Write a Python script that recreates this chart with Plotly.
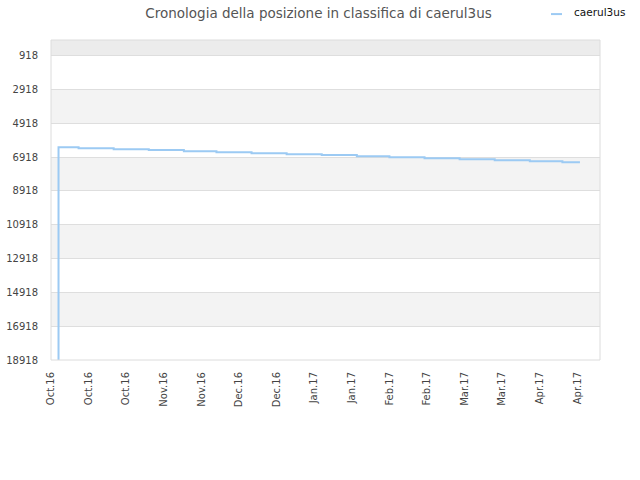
"""Ranking history chart for caerul3us"""
import plotly.graph_objects as go
from datetime import datetime, timedelta

# Data
dates = ['2016-10-04', '2016-10-04', '2016-10-12', '2016-10-26', '2016-11-09',
         '2016-11-23', '2016-12-06', '2016-12-20', '2017-01-03', '2017-01-17',
         '2017-01-31', '2017-02-13', '2017-02-27', '2017-03-13', '2017-03-27',
         '2017-04-10', '2017-04-23', '2017-04-30']
ranks = [19500, 6334, 6395, 6452, 6510, 6570, 6630, 6690, 6748, 6805,
         6866, 6925, 6985, 7045, 7103, 7163, 7220, 7220]
y_ticks = [918, 2918, 4918, 6918, 8918, 10918, 12918, 14918, 16918, 18918]
band_edges = [0, 918, 2918, 4918, 6918, 8918, 10918, 12918, 14918, 16918, 18918]

FONT = 'DejaVu Sans'
LINE_COLOR = '#9ccaf3'

fig = go.Figure()

fig.add_trace(go.Scatter(
    x=dates,
    y=ranks,
    mode='lines',
    line=dict(color=LINE_COLOR, width=2, shape='hv'),
    name='caerul3us',
    showlegend=False,
))

# Alternating background bands
shapes = []
for i in range(len(band_edges) - 1):
    if i == 0:
        color = '#ececec'
    elif i % 2 == 0:
        color = '#f3f3f3'
    else:
        color = '#ffffff'
    shapes.append(dict(type='rect', xref='paper', yref='y', x0=0, x1=1,
                       y0=band_edges[i], y1=band_edges[i + 1],
                       fillcolor=color, line=dict(width=0), layer='below'))
# plot frame
shapes.append(dict(type='rect', xref='paper', yref='paper', x0=0, x1=1, y0=0, y1=1,
                   line=dict(color='#dcdcdc', width=1), layer='above'))
# small legend swatch
shapes.append(dict(type='line', xref='paper', yref='paper', x0=0.9107, x1=0.9308,
                   y0=1.081, y1=1.081, line=dict(color=LINE_COLOR, width=2)))

start = datetime(2016, 10, 1)
end = start + timedelta(days=219)

fig.update_layout(
    width=640,
    height=480,
    margin=dict(l=51, r=40, t=40, b=120),
    paper_bgcolor='white',
    plot_bgcolor='white',
    shapes=shapes,
    showlegend=False,
    title=dict(
        text='Cronologia della posizione in classifica di caerul3us',
        x=0.4977, xanchor='center', y=0.972, yanchor='middle',
        font=dict(family=FONT, size=13.5, color='#555555'),
    ),
    annotations=[dict(
        text='caerul3us', xref='paper', yref='paper', x=0.9485, y=1.0875,
        xanchor='left', yanchor='middle', showarrow=False,
        font=dict(family=FONT, size=10.5, color='#111111'),
    )],
    xaxis=dict(
        type='date',
        range=[start, end],
        tick0='2016-10-01',
        dtick=15 * 86400000,
        tickformat='%b.%y',
        tickangle=-90,
        showgrid=False,
        zeroline=False,
        ticks='',
        automargin=False,
        ticklabelstandoff=9,
        tickfont=dict(family=FONT, size=10, color='#444444'),
    ),
    yaxis=dict(
        range=[18918, 0],
        tickvals=y_ticks,
        ticktext=[str(v) for v in y_ticks],
        showgrid=True,
        gridcolor='#dedede',
        gridwidth=1,
        zeroline=False,
        ticks='',
        automargin=False,
        ticklabelstandoff=12,
        tickfont=dict(family=FONT, size=10, color='#444444'),
    ),
)

# drop the default page margin so the figure sits at the window's corner
fig.write_html('out.html', config={'displayModeBar': False},
               post_script="document.body.style.margin='0';")
